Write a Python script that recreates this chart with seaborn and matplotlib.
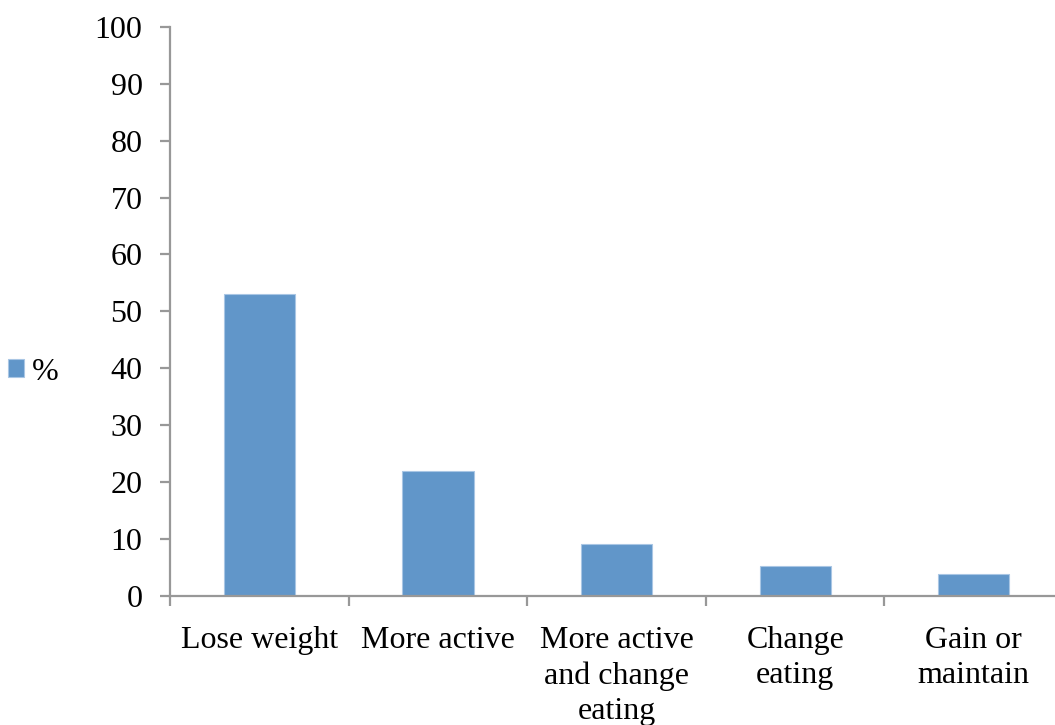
import matplotlib
matplotlib.use("Agg")
import matplotlib.pyplot as plt
import seaborn as sns
import pandas as pd

categories = ["Lose weight", "More active", "More active\nand change\neating",
              "Change\neating", "Gain or\nmaintain"]
percent = [53.1, 22.0, 9.1, 5.2, 3.8]
y_ticks = [0, 10, 20, 30, 40, 50, 60, 70, 80, 90, 100]
series_name = "%"

sns.set_theme(style="white")
plt.rcParams["font.family"] = ["Liberation Serif", "DejaVu Serif"]
plt.rcParams["text.color"] = "black"
plt.rcParams["xtick.labelcolor"] = "black"
plt.rcParams["ytick.labelcolor"] = "black"

W, H = 1055, 725
fig = plt.figure(figsize=(W / 100, H / 100), dpi=100)
ax = fig.add_axes([170.4 / W, 1 - 595.7 / H, (1063 - 170.4) / W, (595.7 - 27) / H])

df = pd.DataFrame({"goal": categories, "pct": percent})
bar_color = "#6196C9"
sns.barplot(data=df, x="goal", y="pct", color=bar_color, width=0.4,
            edgecolor="#A9C6E4", linewidth=0.8, saturation=1, ax=ax, label=series_name)

ax.set_ylim(0, 100)
ax.set_xlim(-0.5, len(categories) - 0.5)
ax.set_yticks(y_ticks)
ax.set_xticks([i - 0.5 for i in range(len(categories) + 1)], minor=False)
ax.set_xticklabels([])
ax.set_xticks(range(len(categories)), minor=True)
ax.set_xticklabels(categories, minor=True, fontsize=23, linespacing=1.3, color="black")
ax.set_xlabel("")
ax.set_ylabel("")

axis_color = "#989898"
for side in ["top", "right"]:
    ax.spines[side].set_visible(False)
for side in ["left", "bottom"]:
    ax.spines[side].set_color(axis_color)
    ax.spines[side].set_linewidth(1.6)

ax.tick_params(axis="y", which="major", direction="out", length=7, width=1.6,
               color=axis_color, labelsize=23, pad=13, left=True, labelcolor="black")
ax.tick_params(axis="x", which="major", direction="out", length=7, width=1.6,
               color=axis_color, bottom=True)
ax.tick_params(axis="x", which="minor", length=0, pad=21.5, labelsize=23,
               labelcolor="black")

if ax.get_legend() is not None:
    ax.get_legend().remove()
handles, labels = ax.get_legend_handles_labels()
leg = fig.legend(handles[:1], labels[:1], loc="center left",
                 bbox_to_anchor=(8 / W, 1 - 372 / H), frameon=False, fontsize=23,
                 handlelength=0.5, handleheight=0.5, handletextpad=0.25, borderpad=0,
                 borderaxespad=0)
for t in leg.get_texts():
    t.set_color("black")

fig.savefig("out.png", dpi=100)
